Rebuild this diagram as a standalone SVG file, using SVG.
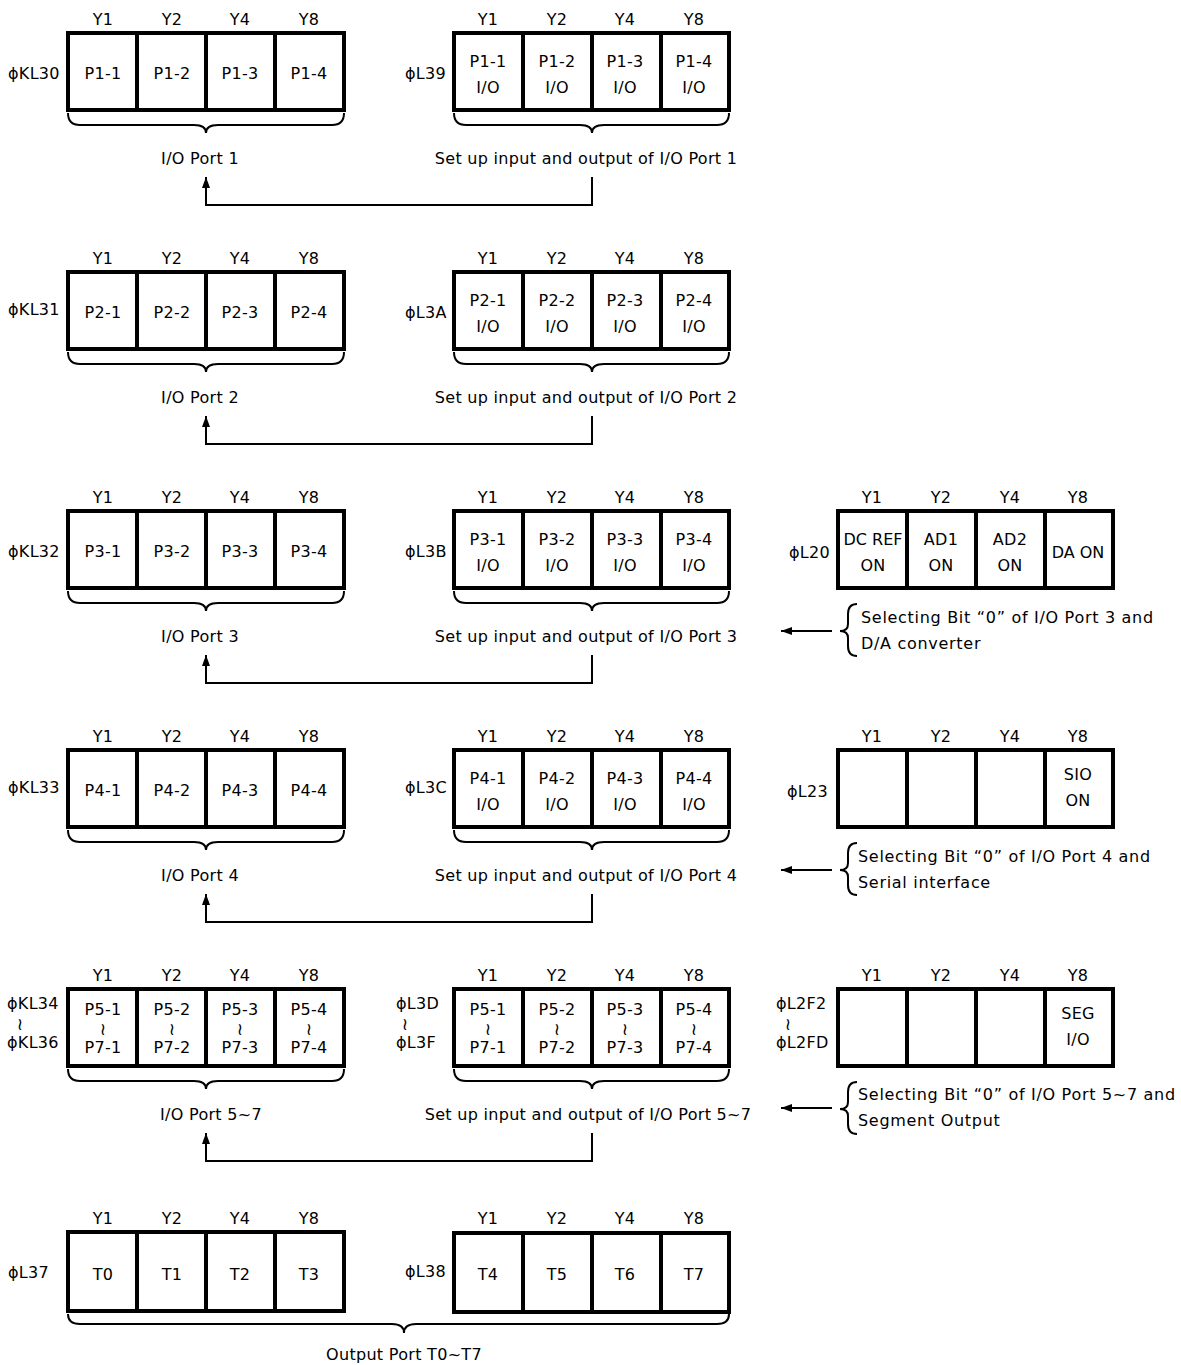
<svg xmlns="http://www.w3.org/2000/svg" width="1181" height="1365" viewBox="0 0 1181 1365">
<style>
text{font-family:"DejaVu Sans","Noto Sans",sans-serif;font-size:16px;letter-spacing:0.3px;fill:#000}
.c{text-anchor:middle}
.s{font-size:17px;letter-spacing:0}
.sel{letter-spacing:0.7px}
.box{fill:#fff;stroke:#000;stroke-width:4}
.dv{stroke:#000;stroke-width:4}
.br{fill:none;stroke:#000;stroke-width:2}
.cn{fill:none;stroke:#000;stroke-width:2}
</style>
<defs>
<marker id="ah" markerUnits="userSpaceOnUse" markerWidth="12" markerHeight="10" refX="11" refY="4" orient="auto">
<path d="M0,0 L11,4 L0,8 Z" fill="#000"/>
</marker>
</defs>
<rect width="1181" height="1365" fill="#fff"/>

<!-- ROW 1 -->
<g transform="translate(0,0)">
<g id="kl30">
<text x="8" y="79">ϕKL30</text>
<text class="c" x="103" y="25">Y1</text><text class="c" x="172" y="25">Y2</text><text class="c" x="240" y="25">Y4</text><text class="c" x="309" y="25">Y8</text>
<rect class="box" x="68" y="33" width="276" height="77"/>
<path class="dv" d="M137,33V110M206,33V110M275,33V110"/>
<text class="c" x="103" y="79">P1-1</text><text class="c" x="172" y="79">P1-2</text><text class="c" x="240" y="79">P1-3</text><text class="c" x="309" y="79">P1-4</text>
</g>
<g id="l39">
<text x="405" y="79">ϕL39</text>
<text class="c" x="488" y="25">Y1</text><text class="c" x="557" y="25">Y2</text><text class="c" x="625" y="25">Y4</text><text class="c" x="694" y="25">Y8</text>
<rect class="box" x="454" y="33" width="275" height="77"/>
<path class="dv" d="M523,33V110M592,33V110M661,33V110"/>
<text class="c" x="488" y="67">P1-1</text><text class="c" x="557" y="67">P1-2</text><text class="c" x="625" y="67">P1-3</text><text class="c" x="694" y="67">P1-4</text>
<text class="c" x="488" y="93">I/O</text><text class="c" x="557" y="93">I/O</text><text class="c" x="625" y="93">I/O</text><text class="c" x="694" y="93">I/O</text>
</g>
<path class="br" d="M68,113Q68,125 80,125L194,125Q206,125 206,133Q206,125 218,125L332,125Q344,125 344,113"/>
<path class="br" d="M454,113Q454,125 466,125L580,125Q592,125 592,133Q592,125 604,125L717,125Q729,125 729,113"/>
<text class="c" x="200" y="164">I/O Port 1</text>
<text class="c" x="586" y="164">Set up input and output of I/O Port 1</text>
</g>

<!-- ROW 2 -->
<g transform="translate(0,239)">
<g id="kl31">
<text x="8" y="76">ϕKL31</text>
<text class="c" x="103" y="25">Y1</text><text class="c" x="172" y="25">Y2</text><text class="c" x="240" y="25">Y4</text><text class="c" x="309" y="25">Y8</text>
<rect class="box" x="68" y="33" width="276" height="77"/>
<path class="dv" d="M137,33V110M206,33V110M275,33V110"/>
<text class="c" x="103" y="79">P2-1</text><text class="c" x="172" y="79">P2-2</text><text class="c" x="240" y="79">P2-3</text><text class="c" x="309" y="79">P2-4</text>
</g>
<g id="l3a">
<text x="405" y="79">ϕL3A</text>
<text class="c" x="488" y="25">Y1</text><text class="c" x="557" y="25">Y2</text><text class="c" x="625" y="25">Y4</text><text class="c" x="694" y="25">Y8</text>
<rect class="box" x="454" y="33" width="275" height="77"/>
<path class="dv" d="M523,33V110M592,33V110M661,33V110"/>
<text class="c" x="488" y="67">P2-1</text><text class="c" x="557" y="67">P2-2</text><text class="c" x="625" y="67">P2-3</text><text class="c" x="694" y="67">P2-4</text>
<text class="c" x="488" y="93">I/O</text><text class="c" x="557" y="93">I/O</text><text class="c" x="625" y="93">I/O</text><text class="c" x="694" y="93">I/O</text>
</g>
<path class="br" d="M68,113Q68,125 80,125L194,125Q206,125 206,133Q206,125 218,125L332,125Q344,125 344,113"/>
<path class="br" d="M454,113Q454,125 466,125L580,125Q592,125 592,133Q592,125 604,125L717,125Q729,125 729,113"/>
<text class="c" x="200" y="164">I/O Port 2</text>
<text class="c" x="586" y="164">Set up input and output of I/O Port 2</text>
</g>

<!-- ROW 3 -->
<g transform="translate(0,478)">
<g id="kl32">
<text x="8" y="79">ϕKL32</text>
<text class="c" x="103" y="25">Y1</text><text class="c" x="172" y="25">Y2</text><text class="c" x="240" y="25">Y4</text><text class="c" x="309" y="25">Y8</text>
<rect class="box" x="68" y="33" width="276" height="77"/>
<path class="dv" d="M137,33V110M206,33V110M275,33V110"/>
<text class="c" x="103" y="79">P3-1</text><text class="c" x="172" y="79">P3-2</text><text class="c" x="240" y="79">P3-3</text><text class="c" x="309" y="79">P3-4</text>
</g>
<g id="l3b">
<text x="405" y="79">ϕL3B</text>
<text class="c" x="488" y="25">Y1</text><text class="c" x="557" y="25">Y2</text><text class="c" x="625" y="25">Y4</text><text class="c" x="694" y="25">Y8</text>
<rect class="box" x="454" y="33" width="275" height="77"/>
<path class="dv" d="M523,33V110M592,33V110M661,33V110"/>
<text class="c" x="488" y="67">P3-1</text><text class="c" x="557" y="67">P3-2</text><text class="c" x="625" y="67">P3-3</text><text class="c" x="694" y="67">P3-4</text>
<text class="c" x="488" y="93">I/O</text><text class="c" x="557" y="93">I/O</text><text class="c" x="625" y="93">I/O</text><text class="c" x="694" y="93">I/O</text>
</g>
<g id="l20">
<text x="789" y="80">ϕL20</text>
<text class="c" x="872" y="25">Y1</text><text class="c" x="941" y="25">Y2</text><text class="c" x="1010" y="25">Y4</text><text class="c" x="1078" y="25">Y8</text>
<rect class="box" x="838" y="33" width="275" height="77"/>
<path class="dv" d="M907,33V110M976,33V110M1045,33V110"/>
<text class="c" x="873" y="67" style="letter-spacing:0">DC REF</text><text class="c" x="941" y="67">AD1</text><text class="c" x="1010" y="67">AD2</text>
<text class="c" x="873" y="93">ON</text><text class="c" x="941" y="93">ON</text><text class="c" x="1010" y="93">ON</text>
<text class="c" x="1078" y="80" style="letter-spacing:0">DA ON</text>
</g>
<path class="br" d="M68,113Q68,125 80,125L194,125Q206,125 206,133Q206,125 218,125L332,125Q344,125 344,113"/>
<path class="br" d="M454,113Q454,125 466,125L580,125Q592,125 592,133Q592,125 604,125L717,125Q729,125 729,113"/>
<text class="c" x="200" y="164">I/O Port 3</text>
<text class="c" x="586" y="164">Set up input and output of I/O Port 3</text>
<path class="br" d="M857,126Q848,126 848,136L848,146Q848,153 840,153Q848,153 848,160L848,168Q848,178 857,178"/>
<text class="sel" x="861" y="145">Selecting Bit “0” of I/O Port 3 and</text>
<text class="sel" x="861" y="171">D/A converter</text>
</g>

<!-- ROW 4 -->
<g transform="translate(0,717)">
<g id="kl33">
<text x="8" y="76">ϕKL33</text>
<text class="c" x="103" y="25">Y1</text><text class="c" x="172" y="25">Y2</text><text class="c" x="240" y="25">Y4</text><text class="c" x="309" y="25">Y8</text>
<rect class="box" x="68" y="33" width="276" height="77"/>
<path class="dv" d="M137,33V110M206,33V110M275,33V110"/>
<text class="c" x="103" y="79">P4-1</text><text class="c" x="172" y="79">P4-2</text><text class="c" x="240" y="79">P4-3</text><text class="c" x="309" y="79">P4-4</text>
</g>
<g id="l3c">
<text x="405" y="76">ϕL3C</text>
<text class="c" x="488" y="25">Y1</text><text class="c" x="557" y="25">Y2</text><text class="c" x="625" y="25">Y4</text><text class="c" x="694" y="25">Y8</text>
<rect class="box" x="454" y="33" width="275" height="77"/>
<path class="dv" d="M523,33V110M592,33V110M661,33V110"/>
<text class="c" x="488" y="67">P4-1</text><text class="c" x="557" y="67">P4-2</text><text class="c" x="625" y="67">P4-3</text><text class="c" x="694" y="67">P4-4</text>
<text class="c" x="488" y="93">I/O</text><text class="c" x="557" y="93">I/O</text><text class="c" x="625" y="93">I/O</text><text class="c" x="694" y="93">I/O</text>
</g>
<g id="l23">
<text x="787" y="80">ϕL23</text>
<text class="c" x="872" y="25">Y1</text><text class="c" x="941" y="25">Y2</text><text class="c" x="1010" y="25">Y4</text><text class="c" x="1078" y="25">Y8</text>
<rect class="box" x="838" y="33" width="275" height="77"/>
<path class="dv" d="M907,33V110M976,33V110M1045,33V110"/>
<text class="c" x="1078" y="63">SIO</text>
<text class="c" x="1078" y="89">ON</text>
</g>
<path class="br" d="M68,113Q68,125 80,125L194,125Q206,125 206,133Q206,125 218,125L332,125Q344,125 344,113"/>
<path class="br" d="M454,113Q454,125 466,125L580,125Q592,125 592,133Q592,125 604,125L717,125Q729,125 729,113"/>
<text class="c" x="200" y="164">I/O Port 4</text>
<text class="c" x="586" y="164">Set up input and output of I/O Port 4</text>
<path class="br" d="M857,126Q848,126 848,136L848,146Q848,153 840,153Q848,153 848,160L848,168Q848,178 857,178"/>
<text class="sel" x="858" y="145">Selecting Bit “0” of I/O Port 4 and</text>
<text class="sel" x="858" y="171">Serial interface</text>
</g>

<!-- ROW 5 -->
<g transform="translate(0,956)">
<g id="kl34-36">
<text x="7" y="53">ϕKL34</text>
<text class="c s" x="20" y="74">≀</text>
<text x="7" y="92">ϕKL36</text>
<text class="c" x="103" y="25">Y1</text><text class="c" x="172" y="25">Y2</text><text class="c" x="240" y="25">Y4</text><text class="c" x="309" y="25">Y8</text>
<rect class="box" x="68" y="33" width="276" height="77"/>
<path class="dv" d="M137,33V110M206,33V110M275,33V110"/>
<text class="c" x="103" y="59">P5-1</text><text class="c" x="172" y="59">P5-2</text><text class="c" x="240" y="59">P5-3</text><text class="c" x="309" y="59">P5-4</text>
<text class="c s" x="103" y="79">≀</text><text class="c s" x="172" y="79">≀</text><text class="c s" x="240" y="79">≀</text><text class="c s" x="309" y="79">≀</text>
<text class="c" x="103" y="97">P7-1</text><text class="c" x="172" y="97">P7-2</text><text class="c" x="240" y="97">P7-3</text><text class="c" x="309" y="97">P7-4</text>
</g>
<g id="l3d-3f">
<text x="396" y="53">ϕL3D</text>
<text class="c s" x="405" y="74">≀</text>
<text x="396" y="92">ϕL3F</text>
<text class="c" x="488" y="25">Y1</text><text class="c" x="557" y="25">Y2</text><text class="c" x="625" y="25">Y4</text><text class="c" x="694" y="25">Y8</text>
<rect class="box" x="454" y="33" width="275" height="77"/>
<path class="dv" d="M523,33V110M592,33V110M661,33V110"/>
<text class="c" x="488" y="59">P5-1</text><text class="c" x="557" y="59">P5-2</text><text class="c" x="625" y="59">P5-3</text><text class="c" x="694" y="59">P5-4</text>
<text class="c s" x="488" y="79">≀</text><text class="c s" x="557" y="79">≀</text><text class="c s" x="625" y="79">≀</text><text class="c s" x="694" y="79">≀</text>
<text class="c" x="488" y="97">P7-1</text><text class="c" x="557" y="97">P7-2</text><text class="c" x="625" y="97">P7-3</text><text class="c" x="694" y="97">P7-4</text>
</g>
<g id="l2f2-2fd">
<text x="776" y="53">ϕL2F2</text>
<text class="c s" x="788" y="74">≀</text>
<text x="776" y="92">ϕL2FD</text>
<text class="c" x="872" y="25">Y1</text><text class="c" x="941" y="25">Y2</text><text class="c" x="1010" y="25">Y4</text><text class="c" x="1078" y="25">Y8</text>
<rect class="box" x="838" y="33" width="275" height="77"/>
<path class="dv" d="M907,33V110M976,33V110M1045,33V110"/>
<text class="c" x="1078" y="63">SEG</text>
<text class="c" x="1078" y="89">I/O</text>
</g>
<path class="br" d="M68,113Q68,125 80,125L194,125Q206,125 206,133Q206,125 218,125L332,125Q344,125 344,113"/>
<path class="br" d="M454,113Q454,125 466,125L580,125Q592,125 592,133Q592,125 604,125L717,125Q729,125 729,113"/>
<text class="c" x="211" y="164">I/O Port 5~7</text>
<text class="c" x="588" y="164">Set up input and output of I/O Port 5~7</text>
<path class="br" d="M857,126Q848,126 848,136L848,146Q848,153 840,153Q848,153 848,160L848,168Q848,178 857,178"/>
<text class="sel" x="858" y="144">Selecting Bit “0” of I/O Port 5~7 and</text>
<text class="sel" x="858" y="170">Segment Output</text>
</g>

<!-- ROW 6 -->
<g id="l37">
<text x="8" y="1278">ϕL37</text>
<text class="c" x="103" y="1224">Y1</text><text class="c" x="172" y="1224">Y2</text><text class="c" x="240" y="1224">Y4</text><text class="c" x="309" y="1224">Y8</text>
<rect class="box" x="68" y="1232" width="276" height="79"/>
<path class="dv" d="M137,1232V1311M206,1232V1311M275,1232V1311"/>
<text class="c" x="103" y="1280">T0</text><text class="c" x="172" y="1280">T1</text><text class="c" x="240" y="1280">T2</text><text class="c" x="309" y="1280">T3</text>
</g>
<g id="l38">
<text x="405" y="1277">ϕL38</text>
<text class="c" x="488" y="1224">Y1</text><text class="c" x="557" y="1224">Y2</text><text class="c" x="625" y="1224">Y4</text><text class="c" x="694" y="1224">Y8</text>
<rect class="box" x="454" y="1233" width="275" height="79"/>
<path class="dv" d="M523,1233V1312M592,1233V1312M661,1233V1312"/>
<text class="c" x="488" y="1280">T4</text><text class="c" x="557" y="1280">T5</text><text class="c" x="625" y="1280">T6</text><text class="c" x="694" y="1280">T7</text>
</g>
<path class="br" d="M68,1314Q68,1324 80,1324L392,1324Q404,1324 404,1333Q404,1324 416,1324L717,1324Q729,1324 729,1314"/>
<text class="c" x="404" y="1360">Output Port T0~T7</text>

<g id="connectors">
<path class="cn" d="M592,177V205H206V177" marker-end="url(#ah)"/>
<path class="cn" d="M592,416V444H206V416" marker-end="url(#ah)"/>
<path class="cn" d="M592,655V683H206V655" marker-end="url(#ah)"/>
<path class="cn" d="M592,894V922H206V894" marker-end="url(#ah)"/>
<path class="cn" d="M592,1133V1161H206V1133" marker-end="url(#ah)"/>
<path class="cn" d="M832,631H781" marker-end="url(#ah)"/>
<path class="cn" d="M832,870H781" marker-end="url(#ah)"/>
<path class="cn" d="M832,1108H781" marker-end="url(#ah)"/>
</g>
</svg>
